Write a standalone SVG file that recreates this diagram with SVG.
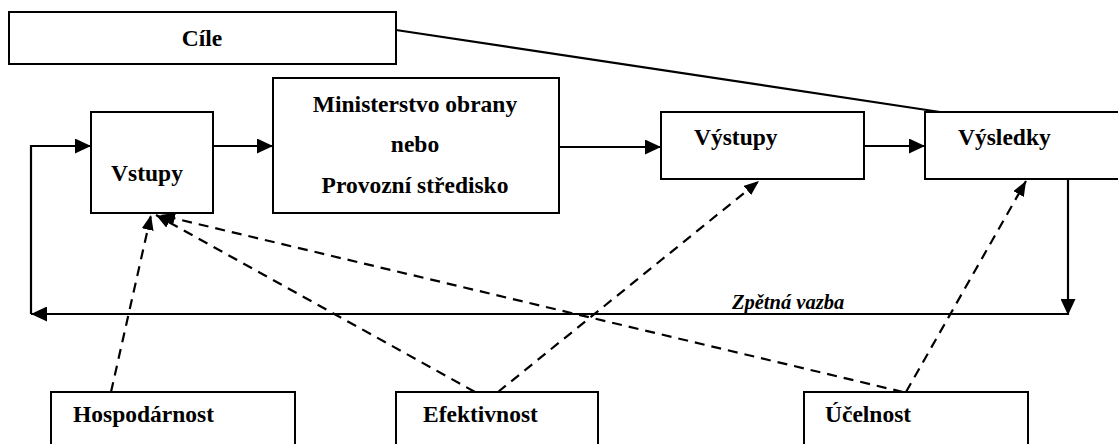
<svg xmlns="http://www.w3.org/2000/svg" width="1118" height="444" viewBox="0 0 1118 444">
  <style>
    .box { fill: #fff; stroke: #000; stroke-width: 2; }
    .lbl { font-family: "Liberation Serif", "Times New Roman", serif; font-weight: bold; font-size: 23.5px; fill: #000; }
    .solid { fill: none; stroke: #000; stroke-width: 2.2; }
    .dash { fill: none; stroke: #000; stroke-width: 2.2; stroke-dasharray: 10 7; }
    .note { font-family: "Liberation Serif", "Times New Roman", serif; font-weight: bold; font-style: italic; font-size: 20.5px; fill: #000; }
  </style>
  <defs>
    <marker id="arr" viewBox="0 0 16 15" refX="16" refY="7.5" markerWidth="16" markerHeight="15" markerUnits="userSpaceOnUse" orient="auto">
      <path d="M0,0 L16,7.5 L0,15 Z" fill="#000"/>
    </marker>
    <marker id="arrd" viewBox="0 0 15 12" refX="15" refY="6" markerWidth="15" markerHeight="12" markerUnits="userSpaceOnUse" orient="auto">
      <path d="M0,0 L15,6 L0,12 Z" fill="#000"/>
    </marker>
  </defs>

  <g id="connectors">
    <!-- goals link -->
    <line class="solid" x1="396" y1="30" x2="940" y2="112"/>
    <!-- main flow -->
    <line class="solid" x1="213" y1="146" x2="273" y2="146" marker-end="url(#arr)"/>
    <line class="solid" x1="559" y1="147" x2="661" y2="147" marker-end="url(#arr)"/>
    <line class="solid" x1="864" y1="146" x2="925" y2="146" marker-end="url(#arr)"/>
    <!-- feedback loop -->
    <line class="solid" x1="1068" y1="180" x2="1068" y2="315" marker-end="url(#arr)"/>
    <line class="solid" x1="1068" y1="314" x2="31" y2="314" marker-end="url(#arr)"/>
    <path class="solid" d="M31,314 V146 H91" marker-end="url(#arr)"/>
    <!-- evaluation links -->
    <line class="dash" x1="111" y1="392" x2="151" y2="215" marker-end="url(#arrd)"/>
    <line class="dash" x1="475" y1="392" x2="156" y2="215" marker-end="url(#arrd)"/>
    <line class="dash" x1="903" y1="392" x2="160" y2="215" marker-end="url(#arrd)"/>
    <line class="dash" x1="498" y1="392" x2="759" y2="181" marker-end="url(#arrd)"/>
    <line class="dash" x1="906" y1="392" x2="1026" y2="181" marker-end="url(#arrd)"/>
    <text class="note" x="732" y="309">Zpětná vazba</text>
  </g>

  <g id="cile">
    <rect class="box" x="9" y="12" width="387" height="52"/>
    <text class="lbl" x="202" y="46" text-anchor="middle">Cíle</text>
  </g>
  <g id="vstupy">
    <rect class="box" x="91" y="112" width="122" height="101"/>
    <text class="lbl" x="147" y="181" text-anchor="middle">Vstupy</text>
  </g>
  <g id="ministerstvo">
    <rect class="box" x="273" y="78" width="286" height="135"/>
    <text class="lbl" x="415" y="112" text-anchor="middle">Ministerstvo obrany</text>
    <text class="lbl" x="415" y="152" text-anchor="middle">nebo</text>
    <text class="lbl" x="415" y="193" text-anchor="middle">Provozní středisko</text>
  </g>
  <g id="vystupy">
    <rect class="box" x="661" y="112" width="203" height="67"/>
    <text class="lbl" x="694" y="145">Výstupy</text>
  </g>
  <g id="vysledky">
    <rect class="box" x="925" y="112" width="200" height="67"/>
    <text class="lbl" x="958" y="145">Výsledky</text>
  </g>
  <g id="hospodarnost">
    <rect class="box" x="51" y="392" width="244" height="70"/>
    <text class="lbl" x="73" y="422">Hospodárnost</text>
  </g>
  <g id="efektivnost">
    <rect class="box" x="396" y="392" width="202" height="70"/>
    <text class="lbl" x="423" y="422">Efektivnost</text>
  </g>
  <g id="ucelnost">
    <rect class="box" x="804" y="392" width="224" height="70"/>
    <text class="lbl" x="825" y="422">Účelnost</text>
  </g>
</svg>
